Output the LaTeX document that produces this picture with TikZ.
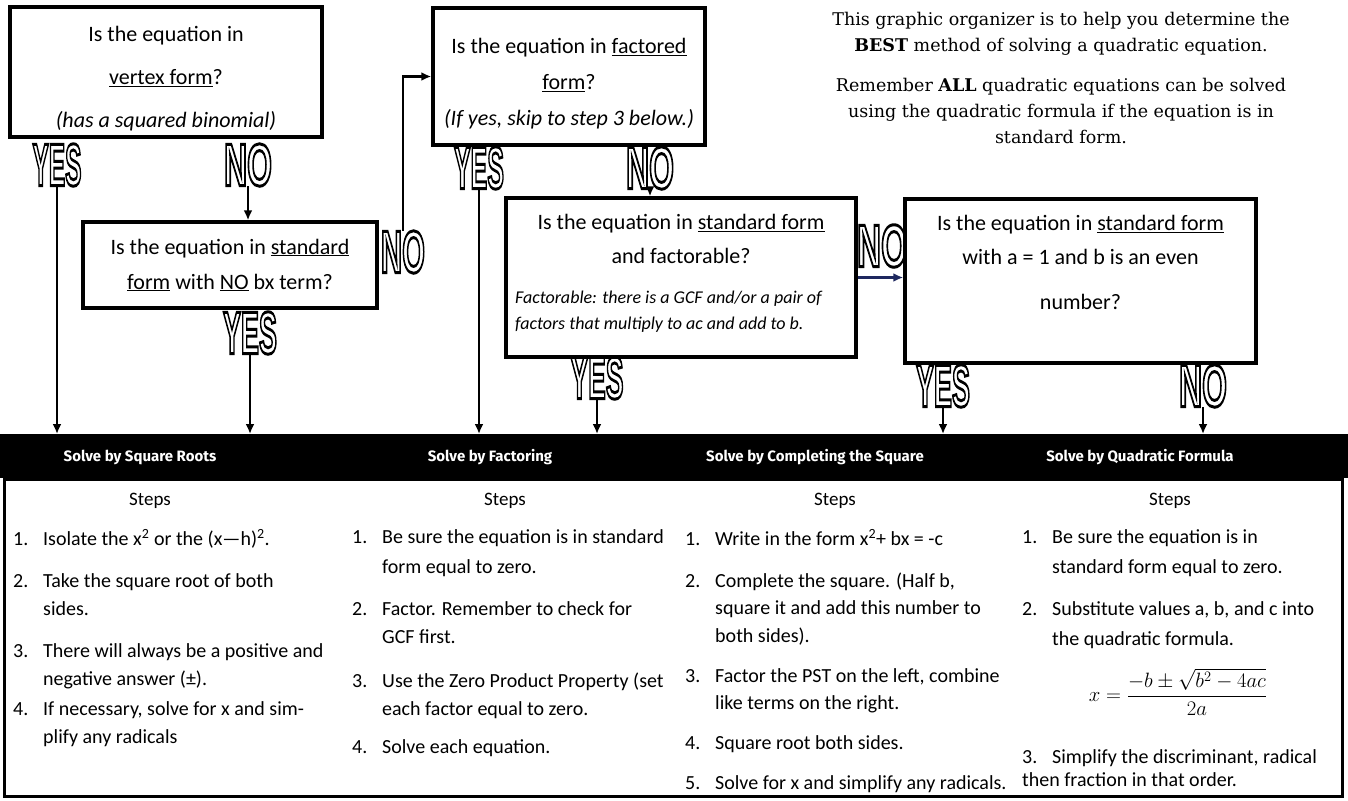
\documentclass[tikz,border=0pt]{standalone}
\usepackage[no-math]{fontspec}
\setmainfont{Carlito}
\newfontfamily\notefont{DejaVu Serif}
\newfontfamily\titlefont{Fira Sans}
\newfontfamily\ynfont{Liberation Sans}
\usepackage{graphicx}
\usetikzlibrary{arrows.meta,positioning}
\definecolor{navyline}{RGB}{30,40,95}
\tikzset{
  qbox/.style={draw, line width=3.5pt, align=center, inner sep=0pt},
  yn/.style={inner sep=0pt, font=\ynfont\bfseries\fontsize{60}{60}\selectfont},
  flow/.style={-{Latex[length=10pt,width=9pt]}, line width=2.6pt},
  steplist/.style={anchor=north west, align=left, inner sep=0pt, font=\fontsize{20}{28}\selectfont},
  heading/.style={text=white, font=\titlefont\bfseries\fontsize{15}{15}\selectfont},
  stepshead/.style={font=\fontsize{19}{20}\selectfont}
}
% outlined letters: stroke only
\newcommand{\ynmark}[2]{\resizebox{#1}{\height}{\special{pdf:literal direct 1 Tr 3 w 0 G}#2\special{pdf:literal direct 0 Tr}}}
\newcommand{\stepno}[1]{\makebox[30pt][l]{#1}}
\newcommand{\stepgap}{\hspace*{30pt}}

\begin{document}
\begin{tikzpicture}[x=1pt, y=-1pt]
\useasboundingbox (0,0) rectangle (1348,800);

% question boxes
\node[qbox, font=\fontsize{22}{43}\selectfont, minimum width=312pt, minimum height=130pt] (vertexbox) at (166,72)
  {\mbox{}\\[-15pt] Is the equation in\\ \underline{vertex form}?\\ \textit{(has a squared binomial)}};
\node[qbox, font=\fontsize{22}{35}\selectfont, minimum width=294pt, minimum height=86pt] (sqbox) at (230,265)
  {Is the equation in \underline{standard}\\ \underline{form} with \underline{NO} bx term?};
\node[qbox, font=\fontsize{22}{36}\selectfont, minimum width=272pt, minimum height=137pt] (factbox) at (569,76.5)
  {\mbox{}\\[-7pt] Is the equation in \underline{factored}\\ \underline{form}?\\ \textit{(If yes, skip to step 3 below.)}};
\node[qbox, font=\fontsize{22}{34}\selectfont, minimum width=350pt, minimum height=159pt] (stdbox) at (681,277.5)
  {Is the equation in \underline{standard form}\\ and factorable?\\[6pt]
   \makebox[332pt][l]{\fontsize{18}{18}\selectfont\itshape Factorable: there is a GCF and/or a pair of}\\[-8pt]
   \makebox[332pt][l]{\fontsize{18}{18}\selectfont\itshape factors that multiply to ac and add to b.}\\[-22pt] \mbox{}};
\node[qbox, font=\fontsize{22}{34}\selectfont, minimum width=351pt, minimum height=164pt] (evenbox) at (1080.5,281)
  {Is the equation in \underline{standard form}\\ with a = 1 and b is an even\\[11pt] number?\\[4pt] \mbox{}};

% note
\node[anchor=north, align=center, inner sep=0pt, font=\notefont\fontsize{17.5}{26}\selectfont] (note) at (1061,12)
  {This graphic organizer is to help you determine the\\
   \textbf{BEST} method of solving a quadratic equation.\\[14pt]
   Remember \textbf{ALL} quadratic equations can be solved\\
   using the quadratic formula if the equation is in\\
   standard form.};

% yes / no marks
\node[yn] (yesA) at (57,165) {\ynmark{49pt}{YES}};
\node[yn] (noA) at (248,165) {\ynmark{48pt}{NO}};
\node[yn] (yesB) at (250,333) {\ynmark{54pt}{YES}};
\node[yn] (noB) at (403,252) {\ynmark{44pt}{NO}};
\node[yn] (yesC) at (479,168) {\ynmark{50pt}{YES}};
\node[yn] (noC) at (650,168) {\ynmark{48pt}{NO}};
\node[yn] (yesD) at (597,378) {\ynmark{53pt}{YES}};
\node[yn] (noD) at (882,246) {\ynmark{50pt}{NO}};
\node[yn] (yesE) at (943,386) {\ynmark{54pt}{YES}};
\node[yn] (noE) at (1203,386) {\ynmark{48pt}{NO}};

% table
\node[draw, line width=3pt, anchor=north west, minimum width=1338pt, minimum height=317pt, inner sep=0pt] (grid) at (2.5,478) {};
\node[fill=black, anchor=north west, minimum width=1348pt, minimum height=44pt, inner sep=0pt] (bar) at (0,434) {};
\node[heading] (titleA) at (140,457) {Solve by Square Roots};
\node[heading] (titleB) at (490,457) {Solve by Factoring};
\node[heading] (titleC) at (815,457) {Solve by Completing the Square};
\node[heading] (titleD) at (1140,457) {Solve by Quadratic Formula};
\node[stepshead] (stepsA) at (150,501) {Steps};
\node[stepshead] (stepsB) at (505,501) {Steps};
\node[stepshead] (stepsC) at (835,501) {Steps};
\node[stepshead] (stepsD) at (1170,501) {Steps};

\node[steplist] (listA) at (13,529)
  {\stepno{1.}Isolate the x\textsuperscript{2} or the (x—h)\textsuperscript{2}.\\[14pt]
   \stepno{2.}Take the square root of both\\
   \stepgap sides.\\[14pt]
   \stepno{3.}There will always be a positive and\\
   \stepgap negative answer (±).\\[2pt]
   \stepno{4.}If necessary, solve for x and sim-\\
   \stepgap plify any radicals};
\node[steplist] (listB) at (352,529)
  {\stepno{1.}Be sure the equation is in standard\\[2pt]
   \stepgap form equal to zero.\\[14pt]
   \stepno{2.}Factor. Remember to check for\\
   \stepgap GCF first.\\[16pt]
   \stepno{3.}Use the Zero Product Property (set\\
   \stepgap each factor equal to zero.\\[10pt]
   \stepno{4.}Solve each equation.};
\node[steplist] (listC) at (685,529)
  {\stepno{1.}Write in the form x\textsuperscript{2}+ bx = -c\\[14pt]
   \stepno{2.}Complete the square. (Half b,\\[-1pt]
   \stepgap square it and add this number to\\
   \stepgap both sides).\\[12pt]
   \stepno{3.}Factor the PST on the left, combine\\[-1pt]
   \stepgap like terms on the right.\\[12pt]
   \stepno{4.}Square root both sides.\\[12pt]
   \stepno{5.}Solve for x and simplify any radicals.};
\node[steplist] (listD) at (1022,529)
  {\stepno{1.}Be sure the equation is in\\[2pt]
   \stepgap standard form equal to zero.\\[14pt]
   \stepno{2.}Substitute values a, b, and c into\\[2pt]
   \stepgap the quadratic formula.\\[90pt]
   \stepno{3.}Simplify the discriminant, radical\\[-5pt]
   then fraction in that order.};
\node[font=\fontsize{22}{24}\selectfont, inner sep=0pt] (formula) at (1178,692) {$\displaystyle x=\frac{-b\pm\sqrt{b^2-4ac}}{2a}$};

% arrows
\draw[flow] (yesA.south) -- (yesA.south |- bar.north);
\draw[flow] (noA.south) -- (noA.south |- sqbox.north);
\draw[flow] (yesB.south) -- (yesB.south |- bar.north);
\draw[flow] (noB.north) |- (factbox.west);
\draw[flow] (yesC.south) -- (yesC.south |- bar.north);
\draw[flow] (noC.south) -- (noC.south |- stdbox.north);
\draw[flow] (yesD.south) -- (yesD.south |- bar.north);
\draw[flow, color=navyline] (stdbox.east) -- (stdbox.east -| evenbox.west);
\draw[flow] (yesE.south) -- (yesE.south |- bar.north);
\draw[flow] (noE.south) -- (noE.south |- bar.north);
\end{tikzpicture}
\end{document}
